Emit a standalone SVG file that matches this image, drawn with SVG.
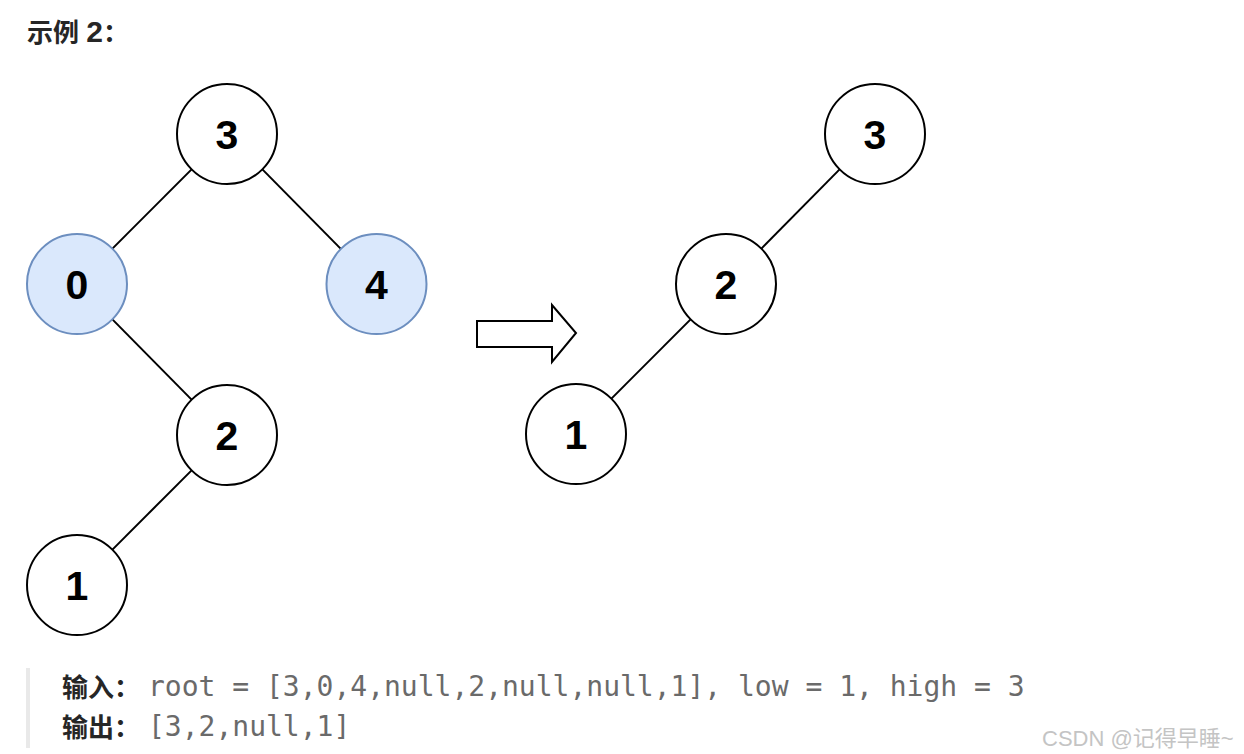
<svg xmlns="http://www.w3.org/2000/svg" width="1244" height="754" viewBox="0 0 1244 754">
<style>
.node circle{fill:#ffffff;stroke:#000000;stroke-width:2}
.node.hl circle{fill:#dae8fc;stroke:#6c8ebf}
.node text{font-family:"Liberation Sans",Arial,sans-serif;font-weight:bold;font-size:41px;fill:#000000;text-anchor:middle}
.edges line{stroke:#000000;stroke-width:2}
.title{font-family:"Liberation Sans","Noto Sans CJK SC",sans-serif;font-weight:bold;font-size:26px;fill:#262626}
.lbl{font-family:"Noto Sans CJK SC",sans-serif;font-weight:bold;font-size:26px;fill:#262626}
.code{font-family:"DejaVu Sans Mono","Liberation Mono",monospace;font-size:28px;fill:#6a6a6a}
.wm{font-family:"Liberation Sans","Noto Sans CJK SC",sans-serif;font-size:22px;fill:#c4c4c4}
</style>
<rect x="0" y="0" width="1244" height="754" fill="#ffffff"/>
<text class="title" x="27" y="42">示例 <tspan font-size="30">2</tspan>：</text>

<g class="edges" id="connectors">
<line x1="191.6" y1="169.4" x2="112.4" y2="248.6"/>
<line x1="262.4" y1="169.4" x2="340.6" y2="248.6"/>
<line x1="112.4" y1="319.4" x2="191.6" y2="399.6"/>
<line x1="191.6" y1="470.4" x2="112.4" y2="549.6"/>
<line x1="839.6" y1="169.4" x2="761.4" y2="248.6"/>
<line x1="690.6" y1="319.4" x2="611.4" y2="398.6"/>
</g>

<g id="L3" class="node"><circle cx="227" cy="134" r="50"/><text x="227" y="149">3</text></g>
<g id="L0" class="node hl"><circle cx="77" cy="284" r="50"/><text x="77" y="299">0</text></g>
<g id="L4" class="node hl"><circle cx="376.5" cy="284" r="50"/><text x="376.5" y="299">4</text></g>
<g id="L2" class="node"><circle cx="227" cy="435" r="50"/><text x="227" y="450">2</text></g>
<g id="L1" class="node"><circle cx="77" cy="585" r="50"/><text x="77" y="600">1</text></g>

<g id="arrow"><polygon points="477,321 552,321 552,305 576,333 552,362 552,347 477,347" fill="#ffffff" stroke="#000000" stroke-width="2" stroke-linejoin="miter"/></g>

<g id="R3" class="node"><circle cx="875" cy="134" r="50"/><text x="875" y="149">3</text></g>
<g id="R2" class="node"><circle cx="726" cy="284" r="50"/><text x="726" y="299">2</text></g>
<g id="R1" class="node"><circle cx="576" cy="434" r="50"/><text x="576" y="449">1</text></g>

<rect x="26" y="668" width="4" height="80" fill="#e9e9e9"/>
<text class="lbl" x="62" y="697">输入：</text>
<text class="code" x="148" y="696">root = [3,0,4,null,2,null,null,1], low = 1, high = 3</text>
<text class="lbl" x="62" y="737">输出：</text>
<text class="code" x="148" y="736">[3,2,null,1]</text>

<text class="wm" x="1042" y="746">CSDN @记得早睡~</text>
</svg>
